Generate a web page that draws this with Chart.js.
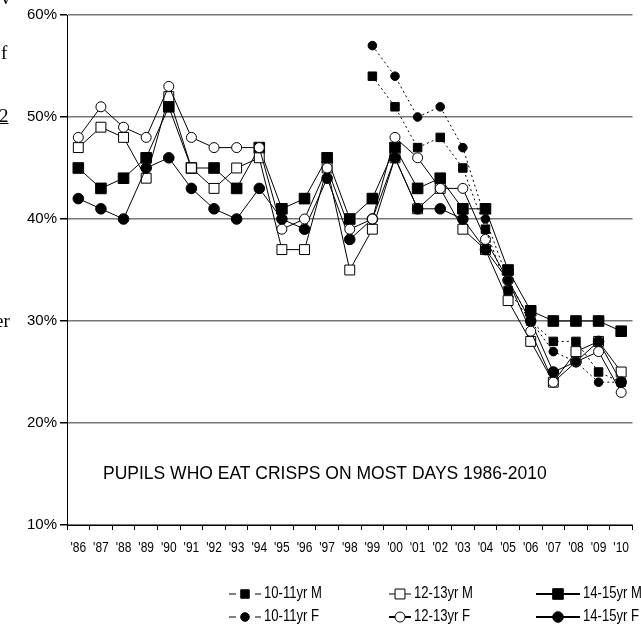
<!DOCTYPE html>
<html>
<head>
<meta charset="utf-8">
<script src="https://cdn.jsdelivr.net/npm/chart.js@4"></script>
<style>
  html, body { margin: 0; padding: 0; background: #fff; }
  #wrap { position: relative; width: 641px; height: 641px; overflow: hidden; }
  canvas { position: absolute; left: 0; top: 0; }
  .frag { position: absolute; font-family: "Liberation Serif", "DejaVu Serif", serif; font-size: 19px; color: #000; line-height: 20px; }
</style>
</head>
<body>
<div id="wrap">
  <canvas id="crisps-chart" width="641" height="641"></canvas>
  <div class="frag" style="left:1px; top:-12px">v</div>
  <div class="frag" style="left:1px; top:43px">f</div>
  <div class="frag" style="left:-1px; top:106px; text-decoration:underline">2</div>
  <div class="frag" style="left:-5px; top:311px">er</div>
</div>
<script>
// year labels along the bottom
const years = ["'86", "'87", "'88", "'89", "'90", "'91", "'92", "'93", "'94", "'95", "'96", "'97", "'98",
  "'99", "'00", "'01", "'02", "'03", "'04", "'05", "'06", "'07", "'08", "'09", "'10"]

const boys10 = [null, null, null, null, null, null, null, null, null, null, null, null, null,
  54, 51, 47, 48, 45, 39, 33, 30, 28, 28, 25, 24]
const girls10 = [null, null, null, null, null, null, null, null, null, null, null, null, null,
  57, 54, 50, 51, 47, 40, 34, 30, 27, 26, 24, 24]
const boys12 = [47, 49, 48, 44, 52, 45, 43, 45, 46, 37, 37, 45, 35, 39, 46, 41, 43, 39, 37, 32, 28, 24, 27, 28, 25]
const girls12 = [48, 51, 49, 48, 53, 48, 47, 47, 47, 39, 40, 45, 39, 40, 48, 46, 43, 43, 38, 34, 29, 24, 26, 27, 23]
const boys14 = [45, 43, 44, 46, 51, 45, 45, 43, 47, 41, 42, 46, 40, 42, 47, 43, 44, 41, 41, 35, 31, 30, 30, 30, 29]
const girls14 = [42, 41, 40, 45, 46, 43, 41, 40, 43, 40, 39, 44, 38, 40, 46, 41, 41, 40, 37, 34, 30, 25, 26, 28, 24]

const yTicks = [10, 20, 30, 40, 50, 60]
const chartTitle = "PUPILS WHO EAT CRISPS ON MOST DAYS 1986-2010"

const sans = "'Liberation Sans', Arial, sans-serif"

function series(label, data, style, fill, radius, dashed, order, legendLen, legendWidth) {
  return {
    label: label,
    data: data,
    borderColor: "#000",
    borderWidth: 1,
    borderDash: dashed ? [2, 3] : [],
    pointStyle: style,
    pointRadius: radius,
    pointBorderWidth: 1,
    pointBorderColor: "#000",
    pointBackgroundColor: fill,
    spanGaps: false,
    order: order,
    legendLen: legendLen,
    legendWidth: legendWidth,
  }
}

// the original uses a narrow font, so text gets squashed sideways
function narrowText(ctx, text, x, y, align, squeeze) {
  ctx.save()
  ctx.translate(x, y)
  ctx.scale(squeeze, 1)
  ctx.textAlign = align
  ctx.fillText(text, 0, 0)
  ctx.restore()
}

// year labels, title inside the plot, legend underneath
const extras = {
  id: "extras",
  afterDraw(chart) {
    const ctx = chart.ctx
    const area = chart.chartArea
    const xScale = chart.scales.x
    ctx.save()
    ctx.fillStyle = "#000"
    ctx.textBaseline = "middle"

    ctx.font = "15px " + sans
    years.forEach((lab, i) => {
      narrowText(ctx, lab, xScale.getPixelForTick(i), area.bottom + 23, "center", 0.8)
    })

    ctx.font = "17.5px " + sans
    ctx.textAlign = "left"
    ctx.fillText(chartTitle, area.left + 36, chart.scales.y.getPixelForValue(15))

    ctx.font = "17px " + sans
    const spots = [[245, 594], [400, 594], [558, 594], [245, 617], [400, 617], [558, 617]]
    chart.data.datasets.forEach((ds, i) => {
      const [cx, cy] = spots[i]
      const half = ds.legendLen
      ctx.strokeStyle = "#000"
      ctx.lineWidth = ds.legendWidth
      ctx.setLineDash(ds.borderDash.length ? [7, 6] : [])
      ctx.beginPath()
      ctx.moveTo(cx - half, cy)
      ctx.lineTo(cx + half, cy)
      ctx.stroke()
      ctx.setLineDash([])
      ctx.lineWidth = 1
      ctx.fillStyle = ds.pointBackgroundColor
      const r = ds.pointRadius
      ctx.beginPath()
      if (ds.pointStyle === "rect") {
        const s = Math.SQRT1_2 * r
        ctx.rect(cx - s, cy - s, 2 * s, 2 * s)
      } else {
        ctx.arc(cx, cy, r, 0, Math.PI * 2)
      }
      ctx.fill()
      ctx.stroke()
      ctx.fillStyle = "#000"
      narrowText(ctx, ds.label, cx + half + 3, cy - 1, "left", 0.77)
    })
    ctx.restore()
  },
}

const ctx = document.getElementById("crisps-chart").getContext("2d")
Chart.defaults.font.family = sans
Chart.defaults.color = "#000"

const chart = new Chart(ctx, {
  type: "line",
  data: {
    labels: years,
    datasets: [
      series("10-11yr M", boys10, "rect", "#000", 6, true, 1, 16, 1),
      series("12-13yr M", boys12, "rect", "#fff", 7, false, 4, 11, 1),
      series("14-15yr M", boys14, "rect", "#000", 7.5, false, 5, 22, 2),
      series("10-11yr F", girls10, "circle", "#000", 4.3, true, 0, 16, 1),
      series("12-13yr F", girls12, "circle", "#fff", 5, false, 2, 11, 2),
      series("14-15yr F", girls14, "circle", "#000", 5.3, false, 3, 22, 2),
    ],
  },
  options: {
    responsive: false,
    animation: false,
    devicePixelRatio: 1,
    layout: { padding: { top: 15, right: 7, left: 0, bottom: 0 } },
    plugins: {
      legend: { display: false },
      tooltip: { enabled: false },
    },
    scales: {
      x: {
        offset: true,
        grid: { offset: true, drawOnChartArea: false, tickLength: 5, color: "#000" },
        border: { color: "#000", width: 1 },
        ticks: { display: false, autoSkip: false },
        afterFit(scale) { scale.height = 116 },
      },
      y: {
        min: 10,
        max: 60,
        afterBuildTicks(scale) { scale.ticks = yTicks.map((v) => ({ value: v })) },
        grid: { color: "#777", lineWidth: 1.5, tickLength: 7, tickColor: "#000" },
        border: { color: "#000", width: 1 },
        ticks: { padding: 3, font: { size: 15 }, callback: (v) => v + "%" },
        afterFit(scale) { scale.width = 67 },
      },
    },
  },
  plugins: [extras],
})
</script>
</body>
</html>
